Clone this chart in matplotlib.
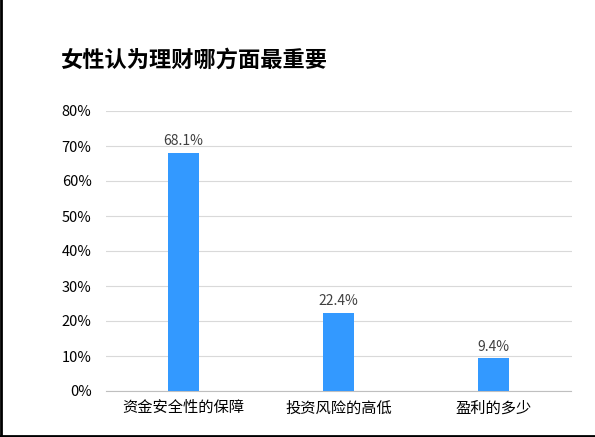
import matplotlib
matplotlib.use("Agg")
import matplotlib.pyplot as plt
from matplotlib.ticker import PercentFormatter

plt.rcParams['font.family'] = ['Noto Sans CJK SC', 'DejaVu Sans']

categories = ["资金安全性的保障", "投资风险的高低", "盈利的多少"]
values = [68.1, 22.4, 9.4]
yticks = [0, 10, 20, 30, 40, 50, 60, 70, 80]

W, H = 595, 437
fig = plt.figure(figsize=(W/100, H/100), dpi=100)
ax = fig.add_axes([105.5/W, 1-391/H, 466/W, 280/H])
x = range(len(categories))
bars = ax.bar(x, values, width=0.2, color="#3399FF", zorder=3)
for xi, v in zip(x, values):
    ax.text(xi, v + 1.2, f"{v}%", ha="center", va="bottom", fontsize=10, color="#404040")
ax.set_xlim(-0.5, 2.5)
ax.set_ylim(0, 80)
ax.set_yticks(yticks)
ax.yaxis.set_major_formatter(PercentFormatter(decimals=0))
ax.set_xticks(list(x))
ax.set_xticklabels(categories, fontsize=11)
ax.tick_params(axis="y", labelsize=10.5, length=0, pad=10)
ax.tick_params(axis="x", length=0, pad=6)
ax.grid(axis="y", color="#d9d9d9", linewidth=0.8, zorder=0)
for s in ["top", "right", "left"]:
    ax.spines[s].set_visible(False)
ax.spines["bottom"].set_color("#bfbfbf")
fig.text(60/W, 1-60/H, "女性认为理财哪方面最重要", fontsize=16, fontweight="bold", va="center", ha="left")
fig.add_artist(plt.Line2D([1/W, 1/W], [0, 1], color="black", linewidth=2, transform=fig.transFigure))
fig.add_artist(plt.Line2D([0, 1], [1/H, 1/H], color="black", linewidth=2, transform=fig.transFigure))
fig.savefig("out.png", dpi=100)
